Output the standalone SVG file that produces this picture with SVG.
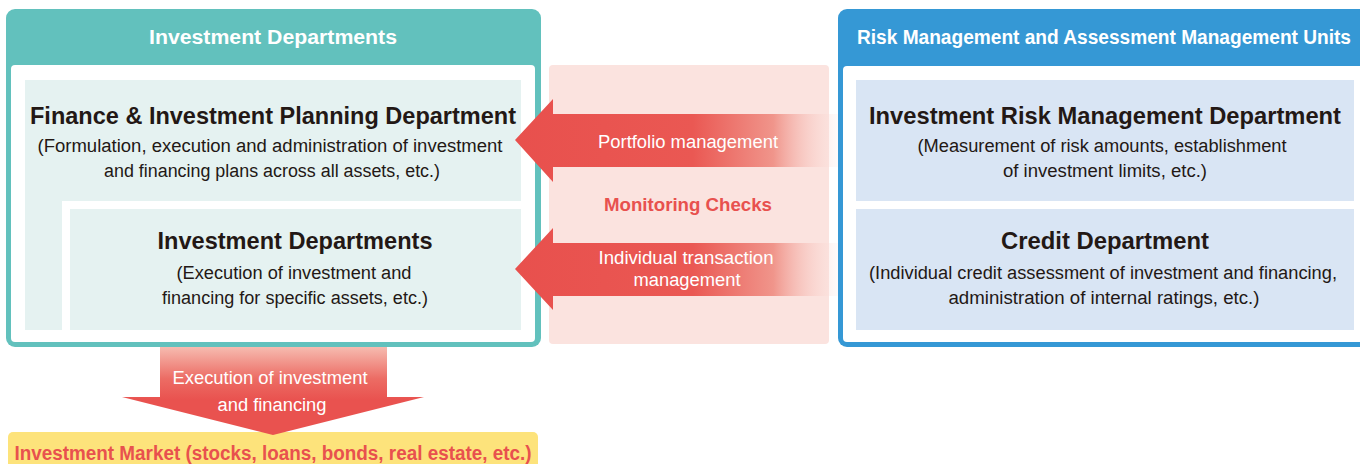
<svg xmlns="http://www.w3.org/2000/svg" width="1360" height="464" viewBox="0 0 1360 464">
<defs>
<style>
text{font-family:"Liberation Sans","Noto Sans",Arial,sans-serif;text-anchor:middle}
.hd{fill:#ffffff;font-size:20px;font-weight:bold}
.tt{fill:#231815;font-size:24px;font-weight:bold}
.ds{fill:#231815;font-size:18px}
.aw{fill:#ffffff;font-size:18px}
.rd{fill:#e8514e;font-size:19px;font-weight:bold}
.tbox{fill:#e5f2f1}
.bbox{fill:#d9e5f4}
</style>
<linearGradient id="gh" x1="515" y1="0" x2="838" y2="0" gradientUnits="userSpaceOnUse">
<stop offset="0" stop-color="#e8504d"/>
<stop offset="0.55" stop-color="#ea5853"/>
<stop offset="0.8" stop-color="#f0958b"/>
<stop offset="1" stop-color="#fde8e4" stop-opacity="0.2"/>
</linearGradient>
<linearGradient id="gv" x1="0" y1="347" x2="0" y2="400" gradientUnits="userSpaceOnUse">
<stop offset="0" stop-color="#f6bbb0"/>
<stop offset="0.6" stop-color="#ec6c64"/>
<stop offset="1" stop-color="#e9524f"/>
</linearGradient>
</defs>

<g id="investment-departments">
<rect x="6" y="9" width="535" height="338" rx="9" fill="#62c1bd"/>
<rect x="11" y="65" width="524" height="277" rx="4" fill="#ffffff"/>
<text class="hd" x="273" y="44" textLength="248" lengthAdjust="spacingAndGlyphs">Investment Departments</text>
</g>

<g id="finance-planning">
<path class="tbox" d="M25,80 H521 V201 H62 V330 H25 Z"/>
<text class="tt" x="273" y="124" textLength="486" lengthAdjust="spacingAndGlyphs">Finance &amp; Investment Planning Department</text>
<text class="ds" x="270" y="152" textLength="465" lengthAdjust="spacingAndGlyphs">(Formulation, execution and administration of investment</text>
<text class="ds" x="272" y="177" textLength="336" lengthAdjust="spacingAndGlyphs">and financing plans across all assets, etc.)</text>
</g>

<g id="investment-dept">
<rect class="tbox" x="70" y="209" width="451" height="121"/>
<text class="tt" x="295" y="249" textLength="275" lengthAdjust="spacingAndGlyphs">Investment Departments</text>
<text class="ds" x="294" y="279" textLength="235" lengthAdjust="spacingAndGlyphs">(Execution of investment and</text>
<text class="ds" x="295" y="304" textLength="266" lengthAdjust="spacingAndGlyphs">financing for specific assets, etc.)</text>
</g>

<g id="monitoring">
<rect x="549" y="65" width="280" height="279" rx="4" fill="#fbe3df"/>
<text class="rd" x="688" y="211" textLength="168" lengthAdjust="spacingAndGlyphs">Monitoring Checks</text>
</g>

<g id="risk-units">
<rect x="838" y="9" width="540" height="338" rx="9" fill="#3598d5"/>
<rect x="843" y="66" width="530" height="276" rx="4" fill="#ffffff"/>
<text class="hd" x="1104" y="44" textLength="494" lengthAdjust="spacingAndGlyphs">Risk Management and Assessment Management Units</text>
</g>

<g id="risk-dept">
<rect class="bbox" x="856" y="80" width="498" height="121"/>
<text class="tt" x="1105" y="124" textLength="472" lengthAdjust="spacingAndGlyphs">Investment Risk Management Department</text>
<text class="ds" x="1102" y="152" textLength="369" lengthAdjust="spacingAndGlyphs">(Measurement of risk amounts, establishment</text>
<text class="ds" x="1105" y="177" textLength="204" lengthAdjust="spacingAndGlyphs">of investment limits, etc.)</text>
</g>

<g id="credit-dept">
<rect class="bbox" x="856" y="209" width="498" height="121"/>
<text class="tt" x="1105" y="249" textLength="208" lengthAdjust="spacingAndGlyphs">Credit Department</text>
<text class="ds" x="1103" y="279" textLength="468" lengthAdjust="spacingAndGlyphs">(Individual credit assessment of investment and financing,</text>
<text class="ds" x="1104" y="304" textLength="311" lengthAdjust="spacingAndGlyphs">administration of internal ratings, etc.)</text>
</g>

<g id="market">
<rect x="8" y="432" width="530" height="44" rx="5" fill="#fde37b"/>
<text class="rd" x="273" y="460" style="font-size:20px" textLength="517" lengthAdjust="spacingAndGlyphs">Investment Market (stocks, loans, bonds, real estate, etc.)</text>
</g>

<g id="connectors">
<polygon points="515,140 553,99 553,114 838,114 838,167 553,167 553,182" fill="url(#gh)"/>
<text class="aw" x="688" y="148" textLength="180" lengthAdjust="spacingAndGlyphs">Portfolio management</text>
<polygon points="515,269 553,228 553,243 838,243 838,296 553,296 553,310" fill="url(#gh)"/>
<text class="aw" x="686" y="264" textLength="175" lengthAdjust="spacingAndGlyphs">Individual transaction</text>
<text class="aw" x="687" y="286" textLength="107" lengthAdjust="spacingAndGlyphs">management</text>
<polygon points="160,347 387,347 387,397 424,397 273,435 122,397 160,397" fill="url(#gv)"/>
<text class="aw" x="270" y="384" textLength="195" lengthAdjust="spacingAndGlyphs">Execution of investment</text>
<text class="aw" x="272" y="411" textLength="109" lengthAdjust="spacingAndGlyphs">and financing</text>
</g>
</svg>
